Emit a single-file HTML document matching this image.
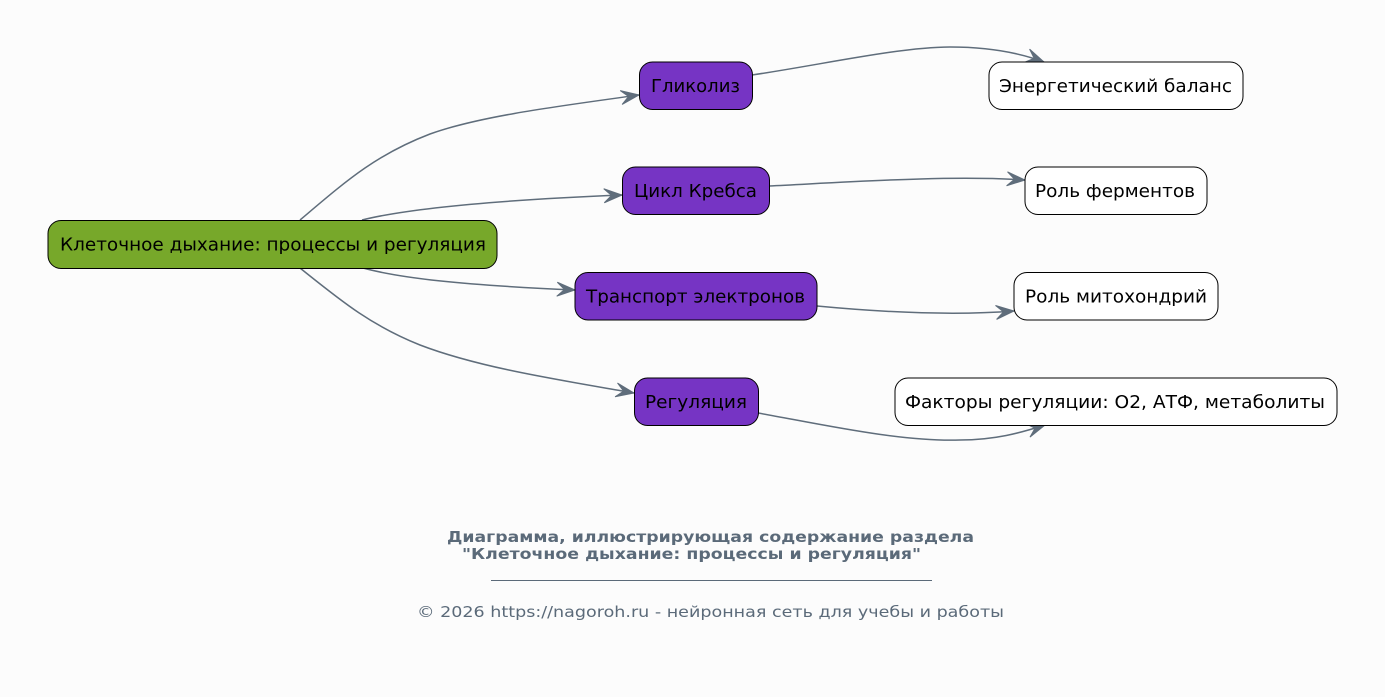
<!DOCTYPE html>
<html>
<head>
<meta charset="utf-8">
<style>
  html,body{margin:0;padding:0;background:#fcfcfc;}
  svg{display:block;}
  .n{font-family:"DejaVu Sans","Liberation Sans",sans-serif;font-size:18px;fill:#000;}
  .e{fill:none;stroke:#5f6d7b;stroke-width:1.5;}
</style>
</head>
<body>
<svg width="1385" height="697" viewBox="0 0 1385 697" xmlns="http://www.w3.org/2000/svg">
  <defs>
    <marker id="v" markerUnits="userSpaceOnUse" markerWidth="20" markerHeight="16" refX="18" refY="7" orient="auto" overflow="visible">
      <path d="M0,0 L18,7 L0,14 L7.5,7 z" fill="#5f6d7b" stroke="#5f6d7b" stroke-width="1" stroke-linejoin="miter"/>
    </marker>
  </defs>
  <rect width="1385" height="697" fill="#fcfcfc"/>

  <!-- edges -->
  <path class="e" marker-end="url(#v)" d="M300,220 C345,182 375,155 430,134 C480,116 560,106 639,95"/>
  <path class="e" marker-end="url(#v)" d="M362,220 C410,208 500,200 622,195"/>
  <path class="e" marker-end="url(#v)" d="M363,268 C400,278 460,285 575,290"/>
  <path class="e" marker-end="url(#v)" d="M300,268 C340,300 370,325 420,345 C480,368 560,380 634,393"/>
  <path class="e" marker-end="url(#v)" d="M752,75 C820,65 900,47 950,47 C990,47 1020,53 1044,62"/>
  <path class="e" marker-end="url(#v)" d="M769,186 C850,182 950,175 1025,180"/>
  <path class="e" marker-end="url(#v)" d="M817,306 C880,312 950,316 1014,311"/>
  <path class="e" marker-end="url(#v)" d="M758,413 C820,424 900,442 960,440 C995,440 1020,433 1045,425"/>

  <!-- root -->
  <rect x="48" y="220.5" width="449" height="48" rx="13" fill="#77a82a" stroke="#000" stroke-width="1"/>
  <text class="n" x="60" y="250.5" textLength="426" lengthAdjust="spacingAndGlyphs">Клеточное дыхание: процессы и регуляция</text>

  <!-- level 1 -->
  <rect x="639.5" y="62" width="113" height="47.5" rx="13" fill="#7634c4" stroke="#000" stroke-width="1"/>
  <text class="n" x="651" y="92" textLength="89" lengthAdjust="spacingAndGlyphs">Гликолиз</text>

  <rect x="622.5" y="167" width="147" height="47.5" rx="13" fill="#7634c4" stroke="#000" stroke-width="1"/>
  <text class="n" x="634" y="197" textLength="123" lengthAdjust="spacingAndGlyphs">Цикл Кребса</text>

  <rect x="575" y="272.5" width="242" height="47.5" rx="13" fill="#7634c4" stroke="#000" stroke-width="1"/>
  <text class="n" x="586" y="302.5" textLength="219" lengthAdjust="spacingAndGlyphs">Транспорт электронов</text>

  <rect x="634.5" y="378" width="124" height="47.5" rx="13" fill="#7634c4" stroke="#000" stroke-width="1"/>
  <text class="n" x="645" y="408" textLength="102" lengthAdjust="spacingAndGlyphs">Регуляция</text>

  <!-- level 2 -->
  <rect x="989" y="62" width="254" height="47.5" rx="13" fill="#fff" stroke="#000" stroke-width="1"/>
  <text class="n" x="999" y="92" textLength="233" lengthAdjust="spacingAndGlyphs">Энергетический баланс</text>

  <rect x="1025" y="167" width="182" height="47.5" rx="13" fill="#fff" stroke="#000" stroke-width="1"/>
  <text class="n" x="1035" y="197" textLength="160" lengthAdjust="spacingAndGlyphs">Роль ферментов</text>

  <rect x="1014" y="272.5" width="204" height="47.5" rx="13" fill="#fff" stroke="#000" stroke-width="1"/>
  <text class="n" x="1025" y="302.5" textLength="182" lengthAdjust="spacingAndGlyphs">Роль митохондрий</text>

  <rect x="895" y="378" width="442" height="47.5" rx="13" fill="#fff" stroke="#000" stroke-width="1"/>
  <text class="n" x="905" y="408" textLength="420" lengthAdjust="spacingAndGlyphs">Факторы регуляции: O2, АТФ, метаболиты</text>

  <!-- caption -->
  <g font-family="DejaVu Sans, Liberation Sans, sans-serif" fill="#5b6a79">
    <text x="447" y="542" font-size="15.5" font-weight="bold" textLength="527" lengthAdjust="spacingAndGlyphs">Диаграмма, иллюстрирующая содержание раздела</text>
    <text x="462" y="559" font-size="15.5" font-weight="bold" textLength="459" lengthAdjust="spacingAndGlyphs">"Клеточное дыхание: процессы и регуляция"</text>
    <line x1="491" y1="580.5" x2="932" y2="580.5" stroke="#5b6a79" stroke-width="1"/>
    <text x="417" y="617" font-size="15.5" textLength="587" lengthAdjust="spacingAndGlyphs">© 2026 https://nagoroh.ru - нейронная сеть для учебы и работы</text>
  </g>
</svg>
</body>
</html>
